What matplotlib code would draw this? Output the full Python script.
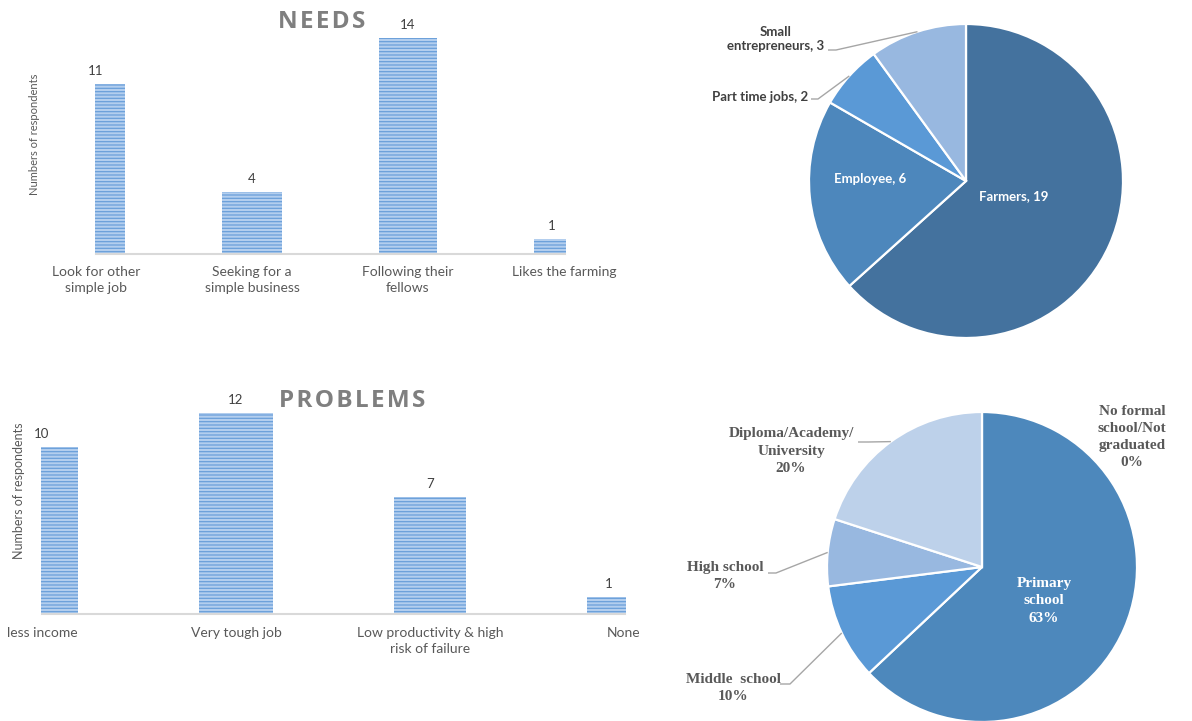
import numpy as np
import matplotlib
matplotlib.use('Agg')
import matplotlib.pyplot as plt

# Данные
needs_cats = ['Look for other\nsimple job', 'Seeking for a\nsimple business',
              'Following their\nfellows', 'Likes the farming']
needs_vals = [11, 4, 14, 1]

problems_cats = ['less income', 'Very tough job',
                 'Low productivity & high\nrisk of failure', 'None']
problems_vals = [10, 12, 7, 1]

job_labels = ['Farmers', 'Employee', 'Part time jobs', 'Small\nentrepreneurs']
job_vals = [19, 6, 2, 3]

edu_labels = ['No formal\nschool/Not\ngraduated', 'Primary\nschool', 'Middle  school',
              'High school', 'Diploma/Academy/\nUniversity']
edu_pcts = [0, 63, 10, 7, 20]

# Раскладка
W, H = 1192, 721
bar_pos = [0.09, 1.0, 2.0, 2.91]
bar_w = [0.19, 0.38, 0.37, 0.20]
val_x = [0.0, 1.0, 2.0, 2.92]

bar_face = '#B3CEEE'
bar_hatch = '#6A9FDA'
txt_gray = '#595959'

plt.rcParams['font.family'] = ['Lato', 'DejaVu Sans']
plt.rcParams['hatch.linewidth'] = 0.9

fig = plt.figure(figsize=(W / 100, H / 100), dpi=100)


def px_axes(x0, y0, x1, y1):
    return fig.add_axes([x0 / W, 1 - y1 / H, (x1 - x0) / W, (y1 - y0) / H])


def draw_bars(cats, vals, x0, unit, yb, vunit, box, title, title_xy, ylab_xy, ylab_fs, pad):
    L, T, R = box
    ax = px_axes(L, T, R, yb)
    ax.set_xlim((L - x0) / unit, (R - x0) / unit)
    ax.set_ylim(0, (yb - T) / vunit)
    ax.bar(bar_pos, vals, width=bar_w, color=bar_face, edgecolor=bar_hatch,
           linewidth=0, hatch='-----')
    for x, v in zip(val_x, vals):
        ax.annotate(str(v), (x, v), xytext=(0, 5), textcoords='offset points',
                    ha='center', va='bottom', fontsize=9.5, color='#404040')
    for s in ['top', 'right', 'left']:
        ax.spines[s].set_visible(False)
    ax.spines['bottom'].set_color('#D9D9D9')
    ax.spines['bottom'].set_linewidth(1.5)
    ax.spines['bottom'].set_bounds(0, 3.006)
    ax.set_yticks([])
    ax.set_xticks(range(len(cats)))
    ax.set_xticklabels(cats, fontsize=10, color=txt_gray, linespacing=1.4)
    ax.tick_params(axis='x', length=0, pad=pad)
    ax.patch.set_alpha(0)
    fig.text(title_xy[0] / W, 1 - title_xy[1] / H, '\u200a'.join(title),
             ha='center', va='center', fontsize=17.5, fontweight='bold', color='#7F7F7F',
             family=['Open Sans', 'DejaVu Sans'])
    fig.text(ylab_xy[0] / W, 1 - ylab_xy[1] / H, 'Numbers of respondents',
             rotation=90, ha='center', va='center', fontsize=ylab_fs, color=txt_gray)
    return ax


draw_bars(needs_cats, needs_vals, 96, 156, 254, 15.43, (30, 15, 650),
          'NEEDS', (322, 22), (35, 134), 8, 8.5)
draw_bars(problems_cats, problems_vals, 42, 194, 614, 16.75, (0, 385, 680),
          'PROBLEMS', (352, 401), (19, 491), 9, 9.5)


def draw_pie(vals, colors, cx, cy, r):
    R = 200
    ax = px_axes(cx - R, cy - R, cx + R, cy + R)
    wedges, _ = ax.pie(vals, colors=colors, startangle=90, counterclock=False,
                       wedgeprops=dict(edgecolor='white', linewidth=1.6))
    ax.set_xlim(-R / r, R / r)
    ax.set_ylim(-R / r, R / r)
    ax.axis('off')

    def to_data(px, py):
        return (px - cx) / r, (cy - py) / r

    def anchor(w):
        a = np.deg2rad((w.theta1 + w.theta2) / 2)
        return np.cos(a), np.sin(a)

    return ax, wedges, to_data, anchor


def leader(ax, to_data, p0, p1, end):
    x0, y0 = to_data(*p0)
    x1, y1 = to_data(*p1)
    ax.plot([x0, x1, end[0]], [y0, y1, end[1]], color='#A6A6A6', lw=1,
            solid_capstyle='butt', clip_on=False)


# Пирог 1: занятость
job_colors = ['#44729E', '#4D87BC', '#5A99D6', '#98B8E0']
ax1, w1, td1, anc1 = draw_pie(job_vals, job_colors, 966, 181, 157)
lab = [f'{l}, {v}' for l, v in zip(job_labels, job_vals)]
pie_font = dict(fontsize=9.5, fontweight='bold')
ax1.text(*td1(1014, 196), lab[0], ha='center', va='center', color='white', **pie_font)
ax1.text(*td1(870, 179), lab[1], ha='center', va='center', color='white', **pie_font)
ax1.text(*td1(808, 97), lab[2], ha='right', va='center', color='#404040', **pie_font)
leader(ax1, td1, (811, 99), (818, 99), anc1(w1[2]))
ax1.text(*td1(776, 39), lab[3], ha='center', va='center', color='#404040',
         multialignment='center', linespacing=1.3, **pie_font)
leader(ax1, td1, (828, 50), (836, 50), anc1(w1[3]))

# Пирог 2: образование
edu_colors = ['#4D88BC', '#4D88BC', '#5A99D6', '#98B8E0', '#BDD1EA']
ax2, w2, td2, anc2 = draw_pie(edu_pcts, edu_colors, 982, 567, 155)
elab = [f'{l}\n{v}%' for l, v in zip(edu_labels, edu_pcts)]
serif = dict(fontsize=11, fontweight='bold', family=['Liberation Serif', 'DejaVu Serif'],
             ha='center', va='center', multialignment='center', linespacing=1.4)
ax2.text(*td2(1044, 601), elab[1], color='white', **serif)
ax2.text(*td2(1132, 437), elab[0], color=txt_gray, **serif)
ax2.text(*td2(791, 451), elab[4], color=txt_gray, **serif)
leader(ax2, td2, (858, 442), (868, 442), anc2(w2[4]))
ax2.text(*td2(725, 576), elab[3], color=txt_gray, **serif)
leader(ax2, td2, (768, 573), (776, 573), anc2(w2[3]))
ax2.text(*td2(733, 688), elab[2], color=txt_gray, **serif)
leader(ax2, td2, (780, 684), (790, 684), anc2(w2[2]))

fig.savefig('out.png', dpi=100, facecolor='white')
